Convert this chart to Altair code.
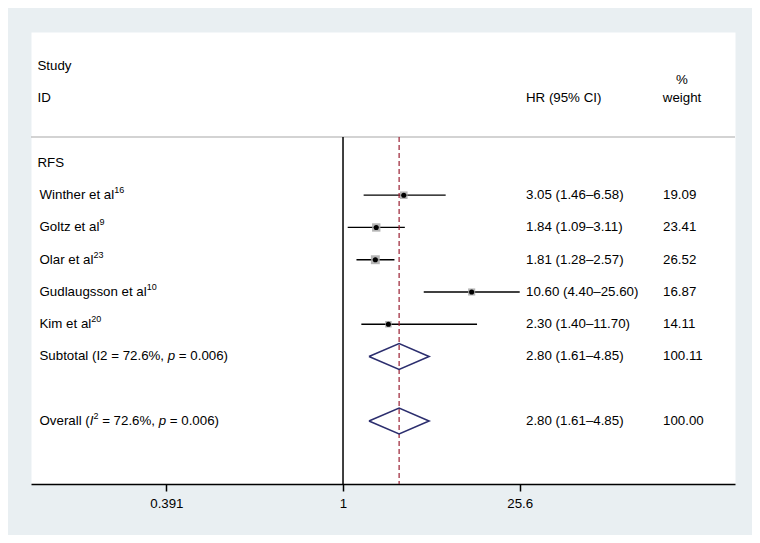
import altair as alt
import pandas as pd

# ---------------- data ----------------
group_label = "RFS"
study_names = ["Winther et al", "Goltz et al", "Olar et al", "Gudlaugsson et al", "Kim et al"]
study_refs = ["16", "9", "23", "10", "20"]
hr = [3.05, 1.84, 1.81, 10.60, 2.30]
lo = [1.46, 1.09, 1.28, 4.40, 1.40]
hi = [6.58, 3.11, 2.57, 25.60, 11.70]
weight = [19.09, 23.41, 26.52, 16.87, 14.11]

pooled_parts = [
    [("Subtotal (I2 = 72.6%, ", "normal"), ("p", "italic"), (" = 0.006)", "normal")],
    [("Overall (", "normal"), ("I", "italic"), ("2", "sup"), (" = 72.6%, ", "normal"), ("p", "italic"), (" = 0.006)", "normal")],
]
pooled_hr = [2.80, 2.80]
pooled_lo = [1.61, 1.61]
pooled_hi = [4.85, 4.85]
pooled_weight = [100.11, 100.00]

tick_values = [0.0391, 1, 25.6]
tick_labels = ["0.391", "1", "25.6"]

# ---------------- layout ----------------
W, H = 704, 452
FONT = "Liberation Sans"
FS = 13.3
SUP_FS = 9.0
SUP_DY = -5
study_rows = [1, 2, 3, 4, 5]
pooled_rows = [6, 8]
SEP = -0.806
Y_TOP, Y_BOT = -4.06, 9.953
X_NAME, X_HEAD, X_HR, X_W = 8.5, 6.5, 495, 651

xscale = alt.Scale(type="log", domain=[0.00326, 1331], nice=False)
yscale = alt.Scale(domain=[Y_TOP, Y_BOT], reverse=True, nice=False, zero=False)
Yr = alt.Y("row:Q", scale=yscale, axis=None)

labelExpr = "[" + ",".join(f"'{t}'" for t in tick_labels) + "][indexof([" + \
    ",".join(str(v) for v in tick_values) + "], datum.value)]"
xaxis = alt.Axis(values=tick_values, labelExpr=labelExpr, title=None, grid=False,
                 domainColor="black", domainWidth=1.5, tickColor="black", tickWidth=1.5,
                 tickSize=7, labelFont=FONT, labelFontSize=FS, labelColor="black",
                 labelPadding=5, labelFlush=False, labelOverlap=False)


def X(field):
    return alt.X(field, scale=xscale, axis=xaxis)


sdf = pd.DataFrame({"hr": hr, "lo": lo, "hi": hi, "w": weight, "row": study_rows})
sdf["hrtxt"] = [f"{a:.2f} ({b:.2f}–{c:.2f})" for a, b, c in zip(hr, lo, hi)]
sdf["wtxt"] = [f"{v:.2f}" for v in weight]

pdf = pd.DataFrame({"hr": pooled_hr, "lo": pooled_lo, "hi": pooled_hi, "row": pooled_rows})
pdf["hrtxt"] = [f"{a:.2f} ({b:.2f}–{c:.2f})" for a, b, c in zip(pooled_hr, pooled_lo, pooled_hi)]
pdf["wtxt"] = [f"{v:.2f}" for v in pooled_weight]

# diamond vertices
HALF = 0.4
dia = []
for g, (e, l, h, r) in enumerate(zip(pooled_hr, pooled_lo, pooled_hi, pooled_rows)):
    pts = [(l, r), (e, r - HALF), (h, r), (e, r + HALF), (l, r)]
    for k, (xx, yy) in enumerate(pts):
        dia.append({"g": g, "o": k, "x": xx, "row": yy})
ddf = pd.DataFrame(dia)

ref_df = pd.DataFrame({"v": [1.0], "row": [SEP], "y1": [Y_BOT]})
ovl_df = pd.DataFrame({"v": [pooled_hr[-1]], "row": [SEP], "y1": [Y_BOT]})
sep_df = pd.DataFrame({"row": [SEP]})

header_df = pd.DataFrame({"t": ["Study", "ID", group_label], "row": [-3, -2, 0]})
hr_head_df = pd.DataFrame({"t": ["HR (95% CI)"], "row": [-2]})
w_head_df = pd.DataFrame({"t": ["%", "weight"], "row": [-2.57, -2]})

layers = []

# CI lines
layers.append(alt.Chart(sdf).mark_rule(color="black", strokeWidth=1.3).encode(
    x=X("lo:Q"), x2="hi:Q", y=Yr))

# separator
layers.append(alt.Chart(sep_df).mark_rule(color="#c4c4c4", strokeWidth=1.5).encode(
    y=Yr, x=alt.value(0), x2=alt.value(W)))

# null line
layers.append(alt.Chart(ref_df).mark_rule(color="black", strokeWidth=1.5).encode(
    x=X("v:Q"), y=Yr, y2="y1:Q"))

# overall dashed line
layers.append(alt.Chart(ovl_df).mark_rule(color="#9a1f33", strokeWidth=1.2, strokeDash=[5, 3]).encode(
    x=X("v:Q"), y=Yr, y2="y1:Q"))

# weight boxes
layers.append(alt.Chart(sdf).mark_square(color="#a8a8a8", opacity=0.85).encode(
    x=X("hr:Q"), y=Yr,
    size=alt.Size("w:Q", scale=alt.Scale(type="linear", domain=[0, 30], range=[0, 90]), legend=None)))

# point estimates
layers.append(alt.Chart(sdf).mark_circle(color="black", opacity=1, size=26).encode(
    x=X("hr:Q"), y=Yr))

# diamonds
layers.append(alt.Chart(ddf).mark_line(color="#2c2e6e", strokeWidth=1.6).encode(
    x=X("x:Q"), y=Yr, detail="g:N", order="o:Q"))

txt = dict(font=FONT, fontSize=FS, color="black", baseline="middle")

# headers
layers.append(alt.Chart(header_df).mark_text(align="left", **txt).encode(
    x=alt.value(X_HEAD), y=Yr, text="t:N"))
layers.append(alt.Chart(hr_head_df).mark_text(align="left", **txt).encode(
    x=alt.value(X_HR), y=Yr, text="t:N"))
layers.append(alt.Chart(w_head_df).mark_text(align="center", **txt).encode(
    x=alt.value(X_W), y=Yr, text="t:N"))

# values
layers.append(alt.Chart(sdf).mark_text(align="left", **txt).encode(
    x=alt.value(X_HR), y=Yr, text="hrtxt:N"))
layers.append(alt.Chart(sdf).mark_text(align="left", **txt).encode(
    x=alt.value(X_W - 19), y=Yr, text="wtxt:N"))
layers.append(alt.Chart(pdf).mark_text(align="left", **txt).encode(
    x=alt.value(X_HR), y=Yr, text="hrtxt:N"))
layers.append(alt.Chart(pdf).mark_text(align="left", **txt).encode(
    x=alt.value(X_W - 19), y=Yr, text="wtxt:N"))

# rich labels (Arial metrics for segment offsets)
AW = {" ": 278, "(": 333, ")": 333, ".": 278, ",": 278, "%": 889, "=": 584, "I": 278,
      "S": 667, "u": 556, "b": 556, "t": 278, "o": 556, "a": 556, "l": 222, "O": 778,
      "v": 500, "e": 556, "r": 333, "p": 556, "W": 944, "i": 222, "n": 556, "h": 556,
      "G": 778, "z": 500, "K": 667, "m": 833, "g": 556, "s": 500, "d": 556}


def tw(s, size):
    return sum(AW.get(c, 556) for c in s) * size / 1000.0


def rich(parts, r):
    out = []
    off = 0.0
    for s, style in parts:
        size = SUP_FS if style == "sup" else FS
        lead = len(s) - len(s.lstrip(" "))
        off += tw(" " * lead, size)
        body = s.lstrip(" ")
        d = pd.DataFrame({"t": [body], "row": [r]})
        kw = dict(font=FONT, fontSize=size, color="black", baseline="middle", align="left", dx=off)
        if style == "sup":
            kw["dy"] = SUP_DY
        else:
            kw["fontStyle"] = style
        out.append(alt.Chart(d).mark_text(**kw).encode(x=alt.value(X_NAME), y=Yr, text="t:N"))
        off += tw(body, size)
    return out


for name, ref, r in zip(study_names, study_refs, study_rows):
    layers += rich([(name, "normal"), (ref, "sup")], r)

for parts, r in zip(pooled_parts, pooled_rows):
    layers += rich(parts, r)

chart = alt.layer(*layers).properties(
    width=W, height=H,
    padding={"left": 23, "top": 24, "right": 17, "bottom": 51},
    autosize=alt.AutoSizeParams(type="none"),
    background="#e9eff2",
).configure_view(fill="white", strokeOpacity=0)

chart.save("out.html", embed_options={"renderer": "svg", "actions": False})
